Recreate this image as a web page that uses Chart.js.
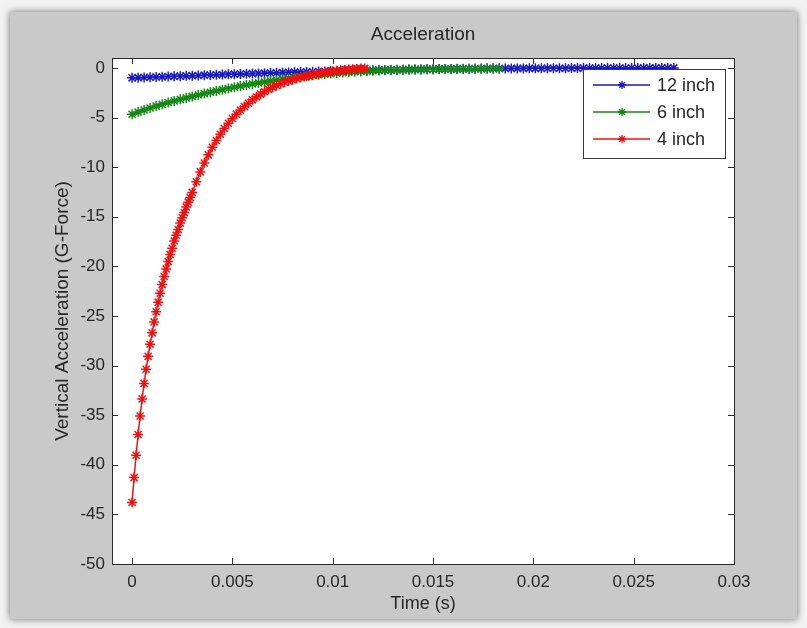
<!DOCTYPE html>
<html>
<head>
<meta charset="utf-8">
<title>Acceleration</title>
<script src="https://cdn.jsdelivr.net/npm/chart.js@4.4.1/dist/chart.umd.min.js"></script>
<style>
  html, body { margin: 0; padding: 0; background: #f2f2f2; }
  #figure {
    position: absolute; left: 10px; top: 12px; width: 787px; height: 607px;
    background: #c9c9c9; box-shadow: 0 0 7px rgba(0, 0, 0, 0.55);
  }
  #accelChart { position: absolute; left: 0; top: 0; }
</style>
</head>
<body>
<div id="figure"></div>
<canvas id="accelChart" width="807" height="628"></canvas>
<script>
// sample times (s)
const tFast = [
  0, 0.0001, 0.0002, 0.0003, 0.0004, 0.0005, 0.0006, 0.0007, 0.0008, 0.0009,
  0.0010, 0.0011, 0.0012, 0.0013, 0.0014, 0.0015, 0.0016, 0.0017, 0.0018, 0.0019,
  0.0020, 0.0021, 0.0022, 0.0023, 0.0024, 0.0025, 0.0026, 0.0027, 0.0028, 0.0029,
  0.0030, 0.0032, 0.0034, 0.0036, 0.0038, 0.0040, 0.0042, 0.0044, 0.0046, 0.0048,
  0.0050, 0.0052, 0.0054, 0.0056, 0.0058, 0.0060, 0.0062, 0.0064, 0.0066, 0.0068,
  0.0070, 0.0072, 0.0074, 0.0076, 0.0078, 0.0080, 0.0082, 0.0084, 0.0086, 0.0088,
  0.0090, 0.0092, 0.0094, 0.0096, 0.0098, 0.0100, 0.0102, 0.0104, 0.0106, 0.0108,
  0.0110, 0.0112, 0.0114, 0.0116
];
const tSlow = [
  0, 0.0003, 0.0006, 0.0009, 0.0012, 0.0015, 0.0018, 0.0021, 0.0024, 0.0027,
  0.0030, 0.0033, 0.0036, 0.0039, 0.0042, 0.0045, 0.0048, 0.0051, 0.0054, 0.0057,
  0.0060, 0.0063, 0.0066, 0.0069, 0.0072, 0.0075, 0.0078, 0.0081, 0.0084, 0.0087,
  0.0090, 0.0093, 0.0096, 0.0099, 0.0102, 0.0105, 0.0108, 0.0111, 0.0114, 0.0117,
  0.0120, 0.0123, 0.0126, 0.0129, 0.0132, 0.0135, 0.0138, 0.0141, 0.0144, 0.0147,
  0.0150, 0.0153, 0.0156, 0.0159, 0.0162, 0.0165, 0.0168, 0.0171, 0.0174, 0.0177,
  0.0180, 0.0183, 0.0186, 0.0189, 0.0192, 0.0195, 0.0198, 0.0201, 0.0204, 0.0207,
  0.0210, 0.0213, 0.0216, 0.0219, 0.0222, 0.0225, 0.0228, 0.0231, 0.0234, 0.0237,
  0.0240, 0.0243, 0.0246, 0.0249, 0.0252, 0.0255, 0.0258, 0.0261, 0.0264, 0.0267,
  0.0270
];

// vertical acceleration (G)
const accel12 = [
  -1.00, -0.98, -0.96, -0.94, -0.92, -0.90, -0.87, -0.85, -0.83, -0.80,
  -0.78, -0.76, -0.73, -0.71, -0.69, -0.67, -0.65, -0.63, -0.61, -0.59,
  -0.57, -0.55, -0.53, -0.51, -0.49, -0.47, -0.45, -0.43, -0.42, -0.40,
  -0.38, -0.37, -0.35, -0.33, -0.32, -0.30, -0.29, -0.27, -0.26, -0.25,
  -0.23, -0.22, -0.21, -0.20, -0.19, -0.18, -0.17, -0.16, -0.15, -0.14,
  -0.13, -0.12, -0.12, -0.11, -0.10, -0.10, -0.09, -0.08, -0.08, -0.07,
  -0.07, -0.06, -0.06, -0.05, -0.05, -0.05, -0.04, -0.04, -0.04, -0.03,
  -0.03, -0.03, -0.03, -0.02, -0.02, -0.02, -0.02, -0.02, -0.01, -0.01,
  -0.01, -0.01, -0.01, -0.01, -0.01, 0.00, 0.00, 0.00, 0.00, 0.00,
  0.00
];
const accel6 = [
  -4.67, -4.45, -4.24, -4.04, -3.85, -3.67, -3.49, -3.33, -3.17, -3.02,
  -2.87, -2.73, -2.59, -2.45, -2.32, -2.19, -2.07, -1.95, -1.83, -1.72,
  -1.61, -1.51, -1.41, -1.31, -1.22, -1.13, -1.05, -0.97, -0.89, -0.82,
  -0.75, -0.69, -0.63, -0.57, -0.52, -0.47, -0.43, -0.39, -0.35, -0.32,
  -0.29, -0.26, -0.24, -0.22, -0.20, -0.18, -0.17, -0.16, -0.15, -0.14,
  -0.13, -0.12, -0.11, -0.10, -0.09, -0.09, -0.08, -0.08, -0.07, -0.07,
  -0.06, -0.06
];
const accel4 = [
  -43.80, -41.29, -39.04, -36.95, -35.08, -33.37, -31.80, -30.37, -29.07, -27.85,
  -26.70, -25.60, -24.57, -23.61, -22.71, -21.84, -21.02, -20.26, -19.52, -18.81,
  -18.17, -17.45, -16.86, -16.28, -15.64, -15.10, -14.58, -14.01, -13.53, -13.06,
  -12.55, -11.47, -10.48, -9.58, -8.76, -8.00, -7.31, -6.68, -6.11, -5.58,
  -5.10, -4.66, -4.26, -3.90, -3.56, -3.22, -2.91, -2.64, -2.39, -2.16,
  -1.95, -1.77, -1.60, -1.45, -1.31, -1.19, -1.07, -0.97, -0.87, -0.78,
  -0.69, -0.61, -0.53, -0.46, -0.40, -0.34, -0.29, -0.24, -0.20, -0.16,
  -0.13, -0.10, -0.07, -0.05
];

const seriesNames = ["12 inch", "6 inch", "4 inch"];
const seriesColors = ["#1a1ac0", "#138613", "#ec1212"];
const chartTitle = "Acceleration";

const FONT = "'Liberation Sans', Arial, sans-serif";
const TEXT = "#262626";

function toPoints(times, values) {
  return values.map((v, i) => ({ x: times[i], y: v }));
}

function fmtTick(v) {
  return String(Number(v.toFixed(4)));
}

// white axes background, box, inward ticks, title and legend (MATLAB look)
const matlabAxes = {
  id: "matlabAxes",
  beforeDatasetsDraw(chart) {
    const { ctx, chartArea: a } = chart;
    ctx.save();
    ctx.fillStyle = "#ffffff";
    ctx.fillRect(a.left, a.top, a.right - a.left, a.bottom - a.top);
    ctx.restore();
  },
  afterDraw(chart) {
    const { ctx, chartArea: a } = chart;
    const xs = chart.scales.x;
    const ys = chart.scales.y;
    const tl = 6;
    ctx.save();
    ctx.strokeStyle = "#2a2a2a";
    ctx.lineWidth = 1;
    ctx.beginPath();
    xs.ticks.forEach((t) => {
      const px = Math.round(xs.getPixelForValue(t.value)) + 0.5;
      ctx.moveTo(px, a.bottom);
      ctx.lineTo(px, a.bottom - tl);
      ctx.moveTo(px, a.top);
      ctx.lineTo(px, a.top + tl);
    });
    ys.ticks.forEach((t) => {
      const py = Math.round(ys.getPixelForValue(t.value)) + 0.5;
      ctx.moveTo(a.left, py);
      ctx.lineTo(a.left + tl, py);
      ctx.moveTo(a.right, py);
      ctx.lineTo(a.right - tl, py);
    });
    ctx.stroke();
    ctx.strokeRect(Math.round(a.left) + 0.5, Math.round(a.top) + 0.5,
      Math.round(a.right - a.left), Math.round(a.bottom - a.top));

    // title, centred over the axes
    ctx.fillStyle = TEXT;
    ctx.font = "19px " + FONT;
    ctx.textAlign = "center";
    ctx.textBaseline = "middle";
    ctx.fillText(chartTitle, (a.left + a.right) / 2, a.top - 23);

    // legend
    const boxR = a.right - 9;
    const boxL = boxR - 142;
    const boxT = a.top + 11;
    const rowH = 27;
    const boxH = 89;
    ctx.fillStyle = "#ffffff";
    ctx.fillRect(boxL, boxT, boxR - boxL, boxH);
    ctx.strokeStyle = "#3a3a3a";
    ctx.lineWidth = 1;
    ctx.strokeRect(boxL + 0.5, boxT + 0.5, boxR - boxL, boxH);
    ctx.font = "18px " + FONT;
    ctx.textBaseline = "middle";
    ctx.textAlign = "left";
    chart.data.datasets.forEach((ds, i) => {
      const y = boxT + 16 + i * rowH;
      ctx.strokeStyle = ds.borderColor;
      ctx.lineWidth = 1.5;
      ctx.beginPath();
      ctx.moveTo(boxL + 10, y);
      ctx.lineTo(boxL + 67, y);
      ctx.stroke();
      const cx = boxL + 39;
      const r = 4;
      ctx.lineWidth = 1.3;
      ctx.beginPath();
      ctx.moveTo(cx - r, y); ctx.lineTo(cx + r, y);
      ctx.moveTo(cx, y - r); ctx.lineTo(cx, y + r);
      const d = r * 0.7071;
      ctx.moveTo(cx - d, y - d); ctx.lineTo(cx + d, y + d);
      ctx.moveTo(cx - d, y + d); ctx.lineTo(cx + d, y - d);
      ctx.stroke();
      ctx.fillStyle = TEXT;
      ctx.fillText(ds.label, boxL + 74, y + 1);
    });
    ctx.restore();
  },
};

const ctx = document.getElementById("accelChart");
const allSeries = [
  toPoints(tSlow, accel12),
  toPoints(tSlow, accel6),
  toPoints(tFast, accel4),
];
const drawOrder = [2, 1, 0];

new Chart(ctx, {
  type: "line",
  data: {
    datasets: allSeries.map((pts, i) => ({
      label: seriesNames[i],
      data: pts,
      borderColor: seriesColors[i],
      backgroundColor: seriesColors[i],
      pointBorderColor: seriesColors[i],
      borderWidth: 1.5,
      pointStyle: "star",
      pointRadius: 5,
      pointBorderWidth: 1.5,
      fill: false,
      tension: 0,
      order: drawOrder[i],
    })),
  },
  options: {
    responsive: false,
    animation: false,
    events: [],
    layout: { padding: { left: 0, right: 73, top: 58, bottom: 0 } },
    plugins: {
      legend: { display: false },
      tooltip: { enabled: false },
      title: { display: false },
    },
    scales: {
      x: {
        type: "linear",
        min: -0.001,
        max: 0.03,
        grid: { display: false, drawTicks: false },
        border: { display: false },
        ticks: {
          stepSize: 0.005,
          includeBounds: false,
          padding: 8,
          color: TEXT,
          font: { family: FONT, size: 17 },
          maxRotation: 0,
          autoSkip: false,
          callback: fmtTick,
        },
        title: {
          display: true,
          text: "Time (s)",
          color: TEXT,
          font: { family: FONT, size: 18 },
          padding: { top: 0, bottom: 13 },
        },
        afterFit(scale) { scale.height = 64; },
      },
      y: {
        type: "linear",
        min: -50,
        max: 1,
        grid: { display: false, drawTicks: false },
        border: { display: false },
        ticks: {
          stepSize: 5,
          includeBounds: false,
          padding: 7,
          color: TEXT,
          font: { family: FONT, size: 17 },
          autoSkip: false,
          callback: fmtTick,
        },
        title: {
          display: true,
          text: "Vertical Acceleration (G-Force)",
          color: TEXT,
          font: { family: FONT, size: 19 },
          padding: { top: 51, bottom: 0 },
        },
        afterFit(scale) { scale.width = 112; },
      },
    },
  },
  plugins: [matlabAxes],
});
</script>
</body>
</html>
